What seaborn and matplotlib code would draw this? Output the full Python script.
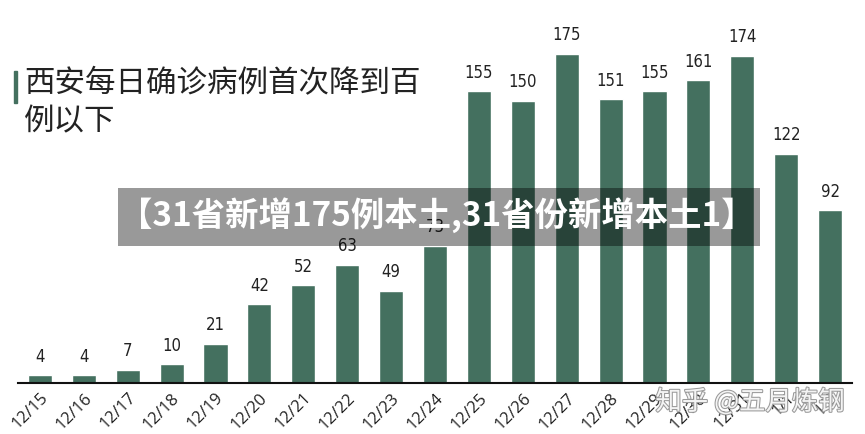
import matplotlib
matplotlib.use("Agg")
import matplotlib.pyplot as plt
import matplotlib.patheffects as pe
from matplotlib.patches import Rectangle
import seaborn as sns
import pandas as pd

dates = ["12/15", "12/16", "12/17", "12/18", "12/19", "12/20", "12/21", "12/22",
         "12/23", "12/24", "12/25", "12/26", "12/27", "12/28", "12/29", "12/30",
         "12/31", "1/1", "1/2"]
cases = [4, 4, 7, 10, 21, 42, 52, 63, 49, 73, 155, 150, 175, 151, 155, 161, 174, 122, 92]
title = "西安每日确诊病例首次降到百\n例以下"
banner = "【31省新增175例本土,31省份新增本土1】"
watermark = "知乎 @五月炼钢"

sns.set_theme(style="white")
plt.rcParams['font.family'] = ['Noto Sans CJK SC', 'DejaVu Sans']

df = pd.DataFrame({"date": dates, "cases": cases})

fig = plt.figure(figsize=(8.65, 4.34), dpi=100)
ax = fig.add_axes([18/865, 1 - 383/434, (852-18)/865, (383-20)/434])
bar_color = "#44705f"
sns.barplot(data=df, x="date", y="cases", color=bar_color, saturation=1,
            width=0.55, ax=ax)
ax.set_xlim(-0.5, len(dates) - 0.5)
ax.set_ylim(0, 193)
for i, v in enumerate(cases):
    ax.text(i, v + 5, str(v), ha="center", va="bottom", fontsize=12,
            color="#222222", family='DejaVu Sans', fontstretch='condensed')
ax.set_xlabel("")
ax.set_ylabel("")
ax.set_yticks([])
for s in ["top", "right", "left"]:
    ax.spines[s].set_visible(False)
ax.spines["bottom"].set_color("#111111")
ax.spines["bottom"].set_linewidth(1.5)
ax.tick_params(axis="x", length=0, pad=5)
ax.set_xticks(range(len(dates)))
ax.set_xticklabels(dates, rotation=45, ha="right", rotation_mode="anchor",
                   fontsize=12, color="#222222",
                   family=['Open Sans', 'DejaVu Sans'])

# title with accent bar
fig.patches.append(Rectangle((14/865, 1 - 103/434), 3/865, 32/434,
                             transform=fig.transFigure, color="#44705f"))
fig.text(24/865, 1 - 68/434, title, ha="left", va="top", fontsize=22,
         color="#222222", linespacing=1.3)

# banner overlay
fig.patches.append(Rectangle((118/865, 1 - 246/434), (760-118)/865, 58/434,
                             transform=fig.transFigure, facecolor="black",
                             edgecolor="none", linewidth=0,
                             alpha=0.4, zorder=10))
fig.text(437/865, 1 - 215/434, banner, ha="center", va="center", fontsize=24,
         color="white", fontweight="heavy", zorder=11)

# watermark
fig.text(750/865, 1 - 402/434, watermark, ha="center", va="center",
         fontsize=19, color="#f4f4f4", zorder=12,
         path_effects=[pe.withStroke(linewidth=1.5, foreground="#9a9a9a")])

fig.savefig("out.png", dpi=100)
